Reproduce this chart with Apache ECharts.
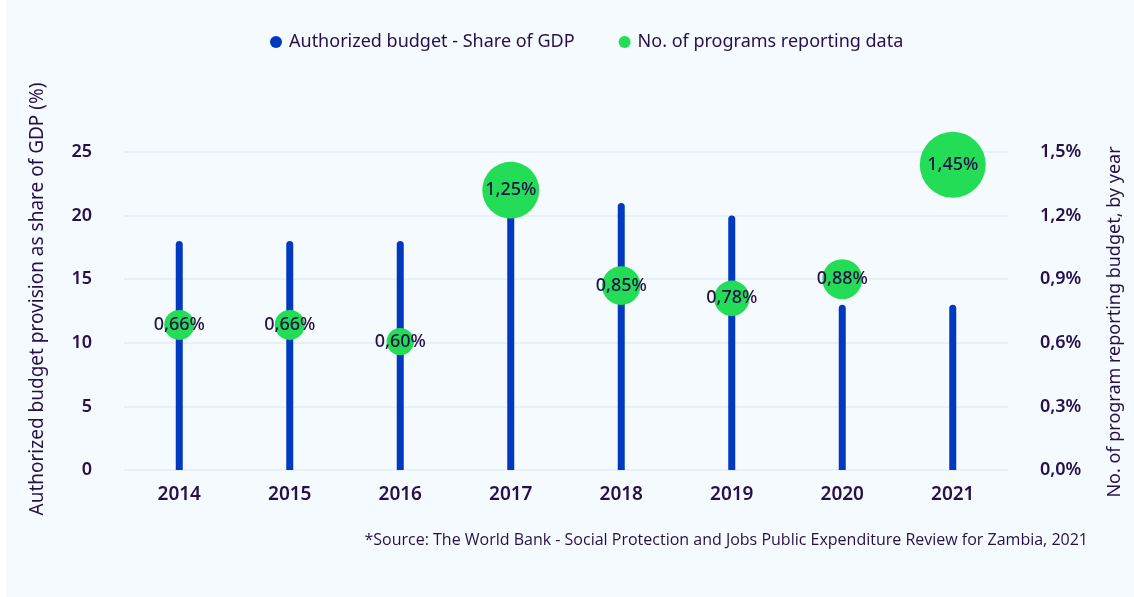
<!DOCTYPE html>
<html>
<head>
<meta charset="utf-8">
<script src="https://cdn.jsdelivr.net/npm/echarts@6/dist/echarts.min.js"></script>
<style>
html,body{margin:0;padding:0;background:#ffffff;}
#c{position:absolute;left:6px;top:0;width:1128px;height:597px;}
</style>
</head>
<body>
<div id="c"></div>
<script>
const years = ['2014','2015','2016','2017','2018','2019','2020','2021'];
const budgetBars = [18, 18, 18, 21, 21, 20, 13, 13];
const programBubbles = [11.4, 11.4, 10.1, 22, 14.5, 13.5, 15, 24];
const shareLabels = [0.66, 0.66, 0.60, 1.25, 0.85, 0.78, 0.88, 1.45];
const leftTicks = [0, 5, 10, 15, 20, 25];
const rightTicks = [0, 0.3, 0.6, 0.9, 1.2, 1.5];

const TXT = '#26104A';
const FONT = 'Noto Sans';
const chart = echarts.init(document.getElementById('c'), null, {renderer:'canvas'});
const fmtPct = (v, d) => v.toFixed(d).replace('.', ',') + '%';

chart.setOption({
  backgroundColor: '#F5FAFE',
  textStyle: {fontFamily: FONT, color: TXT},
  legend: {
    top: 28, left: 259,
    itemGap: 44, itemWidth: 12, itemHeight: 12,
    textStyle: {fontFamily: FONT, fontSize: 18, color: TXT, padding: [0, 0, 0, 2]},
    data: [
      {name: 'Authorized budget - Share of GDP', icon: 'circle'},
      {name: 'No. of programs reporting data', icon: 'circle'}
    ]
  },
  grid: {left: 118, right: 126, top: 152, bottom: 127},
  xAxis: {
    type: 'category', data: years,
    axisLine: {show: false}, axisTick: {show: false},
    axisLabel: {fontFamily: FONT, fontSize: 19, fontWeight: 600, color: TXT, margin: 15}
  },
  yAxis: [
    {
      type: 'value', min: leftTicks[0], max: leftTicks[leftTicks.length-1], interval: 5,
      name: 'Authorized budget provision as share of GDP (%)',
      nameLocation: 'middle', nameGap: 77, nameRotate: 90,
      nameTextStyle: {fontFamily: FONT, fontSize: 19, color: TXT, padding: [0, 0, 0, 24]},
      axisLine: {show: false}, axisTick: {show: false},
      axisLabel: {fontFamily: FONT, fontSize: 18, fontWeight: 600, color: TXT, margin: 32},
      splitLine: {lineStyle: {color: '#E4F0FA', width: 2}}
    },
    {
      type: 'value', min: rightTicks[0], max: rightTicks[rightTicks.length-1], interval: 0.3,
      name: 'No. of program reporting budget, by year',
      nameLocation: 'middle', nameGap: 98, nameRotate: 90,
      nameTextStyle: {fontFamily: FONT, fontSize: 18, color: TXT, padding: [0, 22, 0, 0]},
      axisLine: {show: false}, axisTick: {show: false},
      axisLabel: {fontFamily: FONT, fontSize: 18, fontWeight: 600, color: TXT, margin: 32,
        formatter: v => fmtPct(v, 1)},
      splitLine: {show: false}
    }
  ],
  series: [
    {
      name: 'Authorized budget - Share of GDP', type: 'bar', yAxisIndex: 0,
      data: budgetBars, barWidth: 7,
      itemStyle: {color: '#0039BF', borderRadius: [4, 4, 0, 0]},
      z: 2
    },
    {
      name: 'No. of programs reporting data', type: 'scatter', yAxisIndex: 0,
      data: programBubbles,
      symbolSize: (v, p) => shareLabels[p.dataIndex] * 45.5,
      itemStyle: {color: '#22DD55', opacity: 1},
      label: {
        show: true, position: 'inside', fontFamily: FONT, fontSize: 18, fontWeight: 500, color: TXT,
        formatter: p => fmtPct(shareLabels[p.dataIndex], 2)
      },
      z: 3
    }
  ],
  graphic: [{
    type: 'text', right: 46, top: 532,
    style: {text: '*Source: The World Bank - Social Protection and Jobs Public Expenditure Review for Zambia, 2021',
      font: '16px "Open Sans"', fill: TXT}
  }]
});
</script>
</body>
</html>
